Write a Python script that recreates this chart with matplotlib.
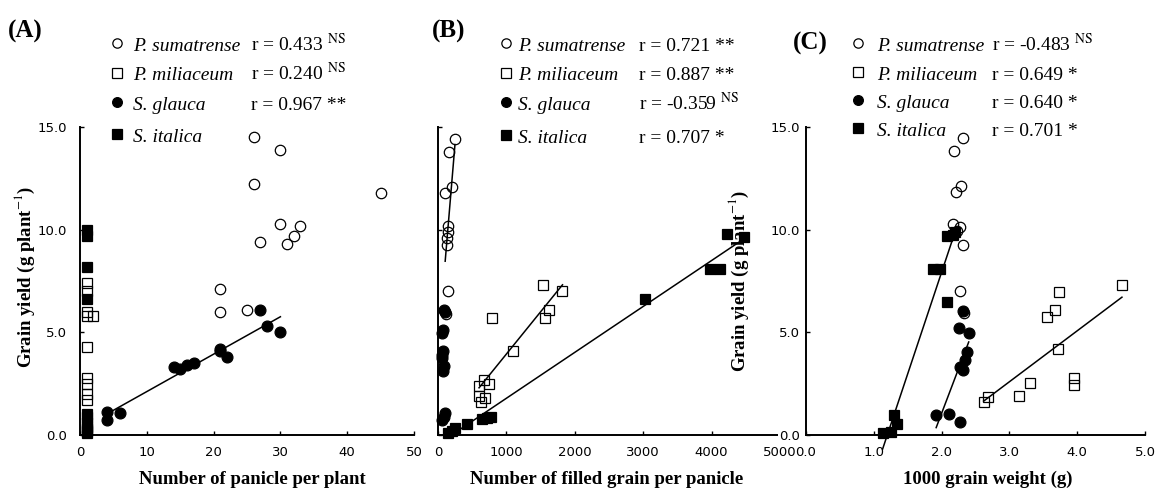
import numpy as np
import matplotlib.pyplot as plt
from matplotlib.lines import Line2D

plt.rcParams['mathtext.fontset'] = 'stix'
plt.rcParams['font.family'] = 'Liberation Serif'

W, H = 1158, 491

# (A) number of panicle per plant
pan_sum_x = [26, 30, 26, 45, 30, 33, 32, 31, 27, 21, 21, 25]
pan_sum_y = [14.5, 13.9, 12.2, 11.8, 10.3, 10.2, 9.7, 9.3, 9.4, 7.1, 6.0, 6.1]
pan_mil_x = [1, 1, 1, 1, 2, 1, 1, 1, 1, 1]
pan_mil_y = [7.4, 7.0, 6.0, 5.8, 5.8, 4.3, 2.8, 2.5, 2.0, 1.7]
pan_gla_x = [27, 28, 30, 21, 21, 22, 14, 15, 16, 17, 4, 4, 6]
pan_gla_y = [6.1, 5.3, 5.0, 4.1, 4.2, 3.8, 3.3, 3.2, 3.4, 3.5, 1.1, 0.75, 1.05]
pan_ita_x = [1, 1, 1, 1, 1, 1, 1, 1, 1, 1, 1]
pan_ita_y = [10.0, 9.7, 8.2, 6.6, 1.0, 0.9, 0.6, 0.4, 0.3, 0.2, 0.1]

# (B) number of filled grain per panicle
grn_sum_x = [248, 160, 209, 105, 150, 141, 136, 126, 141, 120]
grn_sum_y = [14.4, 13.8, 12.1, 11.8, 10.2, 9.9, 9.6, 9.25, 7.0, 5.9]
grn_mil_x = [1530, 1820, 1620, 1560, 790, 1100, 670, 750, 600, 600, 690, 630]
grn_mil_y = [7.3, 7.0, 6.1, 5.7, 5.7, 4.1, 2.7, 2.5, 2.4, 1.9, 1.8, 1.6]
grn_gla_x = [100, 95, 75, 55, 75, 60, 65, 85, 75, 100, 60, 85]
grn_gla_y = [6.0, 6.1, 5.1, 4.95, 4.1, 3.9, 3.75, 3.35, 3.1, 1.05, 0.75, 0.9]
grn_ita_x = [150, 200, 250, 420, 640, 710, 770, 3030, 3970, 4120, 4230, 4480]
grn_ita_y = [0.1, 0.2, 0.35, 0.55, 0.8, 0.85, 0.9, 6.6, 8.1, 8.1, 9.8, 9.65]

# (C) 1000 grain weight
wt_sum_x = [2.31, 2.18, 2.28, 2.21, 2.17, 2.27, 2.22, 2.32, 2.27, 2.33]
wt_sum_y = [14.45, 13.85, 12.14, 11.82, 10.28, 10.12, 9.94, 9.25, 7.03, 5.93]
wt_mil_x = [4.66, 3.73, 3.67, 3.56, 3.71, 3.96, 3.96, 3.30, 3.14, 2.69, 2.62]
wt_mil_y = [7.31, 6.98, 6.09, 5.73, 4.17, 2.76, 2.44, 2.52, 1.92, 1.87, 1.62]
wt_gla_x = [2.32, 2.26, 2.40, 2.38, 2.35, 2.27, 2.31, 1.92, 2.11, 2.27]
wt_gla_y = [6.05, 5.2, 4.95, 4.06, 3.65, 3.33, 3.17, 0.97, 1.02, 0.65]
wt_ita_x = [1.13, 1.26, 1.30, 1.34, 1.88, 1.98, 2.08, 2.08, 2.17, 2.20]
wt_ita_y = [0.08, 0.16, 0.97, 0.54, 8.08, 8.08, 6.49, 9.69, 9.74, 9.9]

species = ['P. sumatrense', 'P. miliaceum', 'S. glauca', 'S. italica']
r_A = ['r = 0.433 $^{\\rm NS}$', 'r = 0.240 $^{\\rm NS}$', 'r = 0.967 **', '']
r_B = ['r = 0.721 **', 'r = 0.887 **', 'r = -0.359 $^{\\rm NS}$', 'r = 0.707 *']
r_C = ['r = -0.483 $^{\\rm NS}$', 'r = 0.649 *', 'r = 0.640 *', 'r = 0.701 *']

styles = [
    dict(marker='o', mfc='none', ms=7.5),
    dict(marker='s', mfc='none', ms=7.3),
    dict(marker='o', mfc='black', ms=7.8),
    dict(marker='s', mfc='black', ms=7.3),
]

fig = plt.figure(figsize=(W / 100, H / 100), dpi=100)


def px(x, y):
    return x / W, 1 - y / H


def make_axes(left, right, xmax, xticks, xlabels, ylabels, ypad, z):
    ax = fig.add_axes([left / W, 1 - 435 / H, (right - left) / W, 308 / H], zorder=z)
    ax.patch.set_visible(False)
    ax.set_xlim(0, xmax)
    ax.set_ylim(0, 15)
    for s in ['top', 'right']:
        ax.spines[s].set_visible(False)
    for s in ['left', 'bottom']:
        ax.spines[s].set_linewidth(1.4)
    ax.set_xticks(xticks)
    ax.set_xticklabels(xlabels)
    ax.set_yticks([0, 5, 10, 15])
    ax.set_yticklabels(ylabels)
    ax.tick_params(direction='in', length=3, width=1, labelsize=9.5, colors='black')
    ax.tick_params(axis='x', pad=8)
    ax.tick_params(axis='y', pad=ypad)
    for lab in ax.get_xticklabels() + ax.get_yticklabels():
        lab.set_family('DejaVu Sans')
    return ax


def scatter(ax, x, y, k, fit):
    if fit:
        a, b = np.polyfit(x, y, 1)
        xs = np.array([min(x), max(x)])
        ax.plot(xs, a * xs + b, color='black', lw=1.1, clip_on=False, zorder=2)
    ax.plot(x, y, ls='none', mec='black', mew=0.9, clip_on=False, zorder=3, **styles[k])


def legend(rtexts, mx, tx, rx, rows):
    for k, (name, rt, y) in enumerate(zip(species, rtexts, rows)):
        st = dict(styles[k])
        st['ms'] = st['ms'] - 0.8
        fx, fy = px(mx, y)
        fig.add_artist(Line2D([fx], [fy], ls='none', mec='black', mew=0.9,
                              transform=fig.transFigure, zorder=5, **st))
        fig.text(*px(tx, y + 8), name, style='italic', size=14, va='baseline')
        if rt:
            fig.text(*px(rx, y + 8), rt, size=14, va='baseline')


ylabs = ['0.0', '5.0', '10.0', '15.0']
ylabel = 'Grain yield (g plant$^{-1}$)'

# panel A
axA = make_axes(80, 414, 50, [0, 10, 20, 30, 40, 50], ['0', '10', '20', '30', '40', '50'],
                ylabs, 9.4, 1)
scatter(axA, pan_sum_x, pan_sum_y, 0, False)
scatter(axA, pan_mil_x, pan_mil_y, 1, False)
scatter(axA, pan_gla_x, pan_gla_y, 2, True)
scatter(axA, pan_ita_x, pan_ita_y, 3, False)

# panel B
axB = make_axes(438, 780, 5000, [0, 1000, 2000, 3000, 4000, 5000],
                ['0', '1000', '2000', '3000', '4000', '5000'], [''] * 4, 4, 1)
scatter(axB, grn_sum_x, grn_sum_y, 0, True)
scatter(axB, grn_mil_x, grn_mil_y, 1, True)
scatter(axB, grn_gla_x, grn_gla_y, 2, False)
scatter(axB, grn_ita_x, grn_ita_y, 3, True)

# panel C
axC = make_axes(806, 1145, 5, [0, 1, 2, 3, 4, 5], ['0.0', '1.0', '2.0', '3.0', '4.0', '5.0'],
                ylabs, 4.3, 2)
scatter(axC, wt_sum_x, wt_sum_y, 0, False)
scatter(axC, wt_mil_x, wt_mil_y, 1, True)
scatter(axC, wt_gla_x, wt_gla_y, 2, True)
scatter(axC, wt_ita_x, wt_ita_y, 3, True)
for lab in axC.get_yticklabels():
    lab.set_bbox(dict(fc='white', ec='none', pad=1))

legend(r_A, 117, 133, 251, [43, 72.5, 102, 134])
legend(r_B, 506, 518, 639, [43, 72.5, 102, 135])
legend(r_C, 858, 877, 992, [43, 71.5, 100, 128])

for x, y, t in [(8, 31, '(A)'), (432, 31, '(B)'), (793, 43, '(C)')]:
    fig.text(*px(x, y), t, weight='bold', size=18, ha='left', va='center')

for x, t in [(252, 'Number of panicle per plant'), (607, 'Number of filled grain per panicle'),
             (988, '1000 grain weight (g)')]:
    fig.text(*px(x, 479), t, weight='bold', size=13.5, ha='center', va='center')

fig.text(*px(25, 277), ylabel, weight='bold', size=13.5, rotation=90, ha='center', va='center')
fig.text(*px(739, 281), ylabel, weight='bold', size=13.5, rotation=90, ha='center', va='center',
         zorder=0.5)

fig.savefig('out.png', dpi=100)
